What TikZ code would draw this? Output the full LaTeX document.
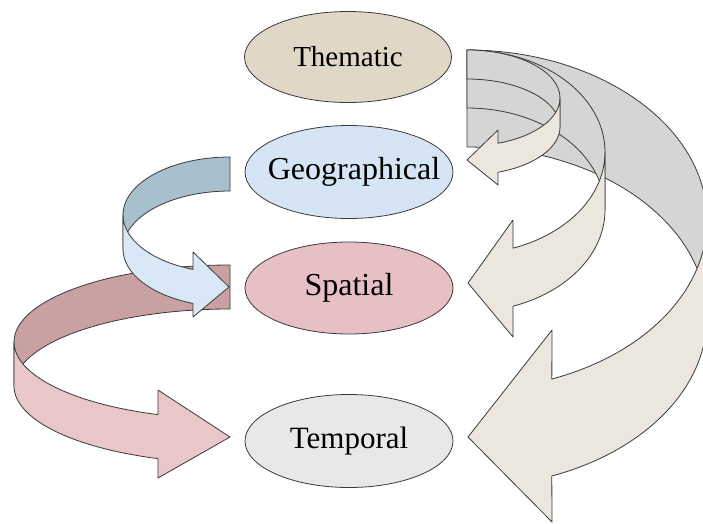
\documentclass[tikz,border=0pt]{standalone}
\usepackage{fontspec}
\setmainfont{Liberation Serif}
\usetikzlibrary{shapes.geometric}
\definecolor{themfill}{HTML}{E0D7C7}
\definecolor{geofill}{HTML}{D5E5F5}
\definecolor{spafill}{HTML}{E6C0C4}
\definecolor{temfill}{HTML}{E8E8E8}
\definecolor{greyback}{HTML}{D5D5D3}
\definecolor{beigefront}{HTML}{EBE7DF}
\definecolor{blueback}{HTML}{A8BFCC}
\definecolor{bluefront}{HTML}{D8E8F6}
\definecolor{redback}{HTML}{C9A1A2}
\definecolor{redfront}{HTML}{E9C6C8}
\definecolor{outline}{HTML}{3A3A3A}
\begin{document}
\begin{tikzpicture}[x=1pt,y=-1pt,
  band/.style={draw=outline, line width=0.8pt, line join=round},
  lbl/.style={ellipse, draw=outline, line width=0.8pt, inner sep=0pt},
  txt/.style={inner sep=0pt}]
\useasboundingbox (0,0) rectangle (703,523);

% ---- large beige arrow: Thematic -> Temporal
\path[band, fill=greyback] (467,50) arc[start angle=-90, end angle=0, x radius=240, y radius=170]
  -- ++(0,97) arc[start angle=0, end angle=-90, x radius=240, y radius=170] -- cycle;
\path[band, fill=beigefront] (707,220) arc[start angle=0, end angle=69.3, x radius=240, y radius=170]
  -- (552,330) -- (468,437) -- (552,522) -- (551.8,476)
  arc[start angle=69.3, end angle=0, x radius=240, y radius=170] -- cycle;

% ---- medium beige arrow: Thematic -> Spatial
\path[band, fill=greyback] (467,50) arc[start angle=-90, end angle=0, x radius=138, y radius=102]
  -- ++(0,58) arc[start angle=0, end angle=-90, x radius=138, y radius=102] -- cycle;
\path[band, fill=beigefront] (605,152) arc[start angle=0, end angle=70.5, x radius=138, y radius=102]
  -- (513,220) -- (468,283) -- (513,337) -- (513.06,306.15)
  arc[start angle=70.5, end angle=0, x radius=138, y radius=102] -- cycle;

% ---- small beige arrow: Thematic -> Geographical
\path[band, fill=greyback] (467,50) arc[start angle=-90, end angle=0, x radius=93, y radius=48]
  -- ++(0,29) arc[start angle=0, end angle=-90, x radius=93, y radius=48] -- cycle;
\path[band, fill=beigefront] (560,98) arc[start angle=0, end angle=70.5, x radius=93, y radius=48]
  -- (498,130) -- (467,160) -- (498,185) -- (498.04,172.24)
  arc[start angle=70.5, end angle=0, x radius=93, y radius=48] -- cycle;

% ---- red arrow: Spatial -> Temporal
\path[band, fill=redback] (230,265) arc[start angle=270, end angle=180, x radius=216, y radius=77]
  -- ++(0,44) arc[start angle=180, end angle=270, x radius=216, y radius=77] -- cycle;
\path[band, fill=redfront] (14,342) arc[start angle=180, end angle=109.5, x radius=216, y radius=77]
  -- (158,390) -- (230,437) -- (158,478) -- (157.9,458.58)
  arc[start angle=109.5, end angle=180, x radius=216, y radius=77] -- cycle;

% ---- blue arrow: Geographical -> Spatial
\path[band, fill=blueback] (230,157) arc[start angle=270, end angle=180, x radius=107, y radius=58]
  -- ++(0,34) arc[start angle=180, end angle=270, x radius=107, y radius=58] -- cycle;
\path[band, fill=bluefront] (123,215) arc[start angle=180, end angle=110.2, x radius=107, y radius=58]
  -- (193,252) -- (229,287) -- (193,317) -- (193.05,303.43)
  arc[start angle=110.2, end angle=180, x radius=107, y radius=58] -- cycle;

% ---- ellipses
\node[lbl, fill=themfill, minimum width=207pt, minimum height=91pt] (them) at (348,57) {};
\node[lbl, fill=geofill, minimum width=208pt, minimum height=93pt] (geo) at (349,172) {};
\node[lbl, fill=spafill, minimum width=208pt, minimum height=92pt] (spa) at (349,288) {};
\node[lbl, fill=temfill, minimum width=208pt, minimum height=93pt] (tem) at (349,441) {};
\node[txt, font=\fontsize{29}{31}\selectfont] (themtxt) at (them) {Thematic};
\node[txt, font=\fontsize{32}{34}\selectfont] (geotxt) at ([xshift=5pt]geo.center) {Geographical};
\node[txt, font=\fontsize{32}{34}\selectfont] (spatxt) at (spa) {Spatial};
\node[txt, font=\fontsize{31}{33}\selectfont] (temtxt) at (tem) {Temporal};
\end{tikzpicture}
\end{document}
